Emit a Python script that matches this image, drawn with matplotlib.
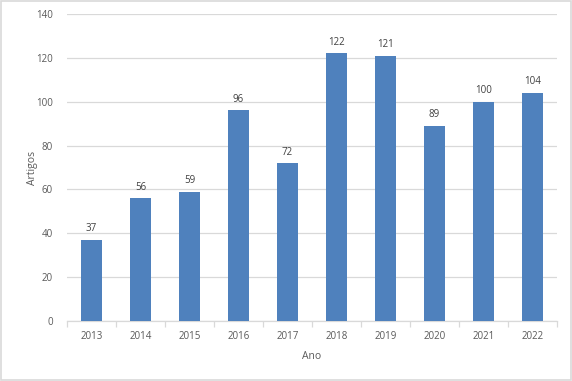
import matplotlib
matplotlib.use("Agg")
import matplotlib.pyplot as plt
from matplotlib.patches import Rectangle

years = ["2013", "2014", "2015", "2016", "2017", "2018", "2019", "2020", "2021", "2022"]
artigos = [37, 56, 59, 96, 72, 122, 121, 89, 100, 104]

plt.rcParams['font.family'] = ['Open Sans', 'DejaVu Sans']
txt = '#595959'

fig = plt.figure(figsize=(5.72, 3.81), dpi=100)
ax = fig.add_axes([67/572, 60/381, 490/572, 307/381])

x = list(range(len(years)))
ax.bar(x, artigos, width=0.41, color='#4f81bd', zorder=3)
for xi, v in zip(x, artigos):
    ax.text(xi, v + 2.5, str(v), ha='center', va='bottom', fontsize=7, color='#404040')

ax.set_xlim(-0.5, len(years) - 0.5)
ax.set_ylim(0, 140)
ax.set_yticks(range(0, 141, 20))
ax.yaxis.grid(True, color='#d9d9d9', linewidth=0.9, zorder=0)
ax.set_xticks(x)
ax.set_xticklabels(years)
ax.set_xticks([i - 0.5 for i in range(len(years) + 1)], minor=True)
ax.tick_params(axis='x', which='major', length=0, pad=7, labelsize=7, colors=txt)
ax.tick_params(axis='x', which='minor', length=4, color='#d9d9d9', width=0.9)
ax.tick_params(axis='y', length=0, pad=10, labelsize=7, colors=txt)
for s in ['top', 'right', 'left']:
    ax.spines[s].set_visible(False)
ax.spines['bottom'].set_color('#d9d9d9')
ax.spines['bottom'].set_linewidth(0.9)

ax.set_xlabel('Ano', fontsize=7.5, color=txt, labelpad=7)
ax.set_ylabel('Artigos', fontsize=7.5, color=txt, labelpad=-1)

fig.patches.append(Rectangle((0.002, 0.003), 0.996, 0.994, transform=fig.transFigure,
                             fill=False, edgecolor='#d9d9d9', linewidth=1.2))

fig.savefig('out.png', dpi=100)
